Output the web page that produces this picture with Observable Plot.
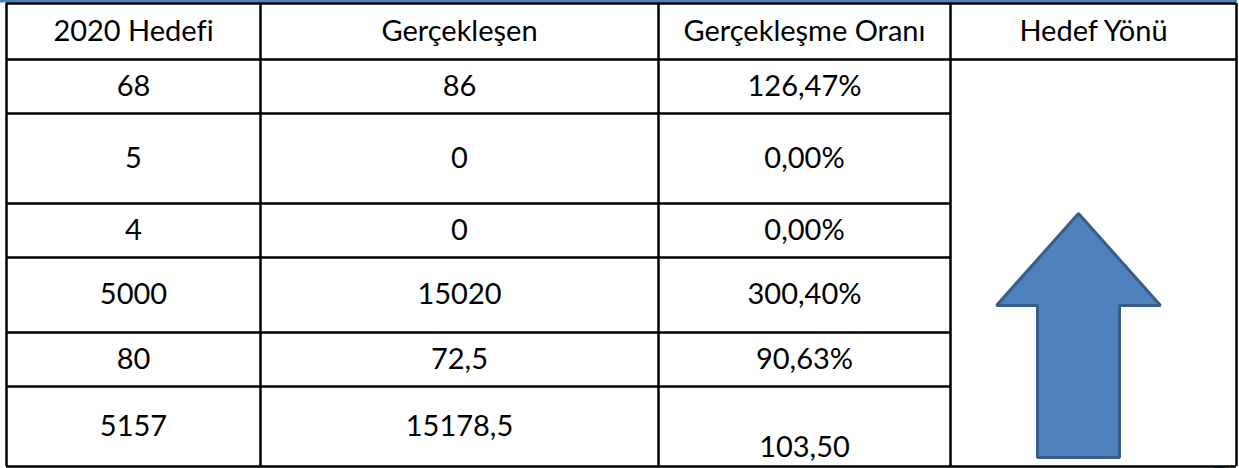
<!DOCTYPE html>
<html><head><meta charset="utf-8">
<script src="https://cdn.jsdelivr.net/npm/d3@7"></script>
<script src="https://cdn.jsdelivr.net/npm/@observablehq/plot@0.6"></script>
<style>body{margin:0;background:#fff} #chart svg{display:block} #chart svg text{font-variant-ligatures:none;font-feature-settings:"liga" 0}</style>
</head><body><div id="chart"></div>
<script>
// ---- data ----
const headers = ["2020 Hedefi", "Gerçekleşen", "Gerçekleşme Oranı", "Hedef Yönü"];
const hedef = ["68", "5", "4", "5000", "80", "5157"];
const gerceklesen = ["86", "0", "0", "15020", "72,5", "15178,5"];
const oran = ["126,47%", "0,00%", "0,00%", "300,40%", "90,63%", "103,50"];
const hedefYonu = ["up"];

// ---- layout (positions only) ----
const W = 1239, H = 468;
const colEdges = [6, 260, 658, 950, 1236];
const rowEdges = [3, 59, 113, 203, 257, 332, 386, 466];
const fontSize = 29;

const cells = [];
headers.forEach((t, c) => cells.push({t, x: (colEdges[c] + colEdges[c+1]) / 2, y: (rowEdges[0] + rowEdges[1]) / 2}));
[hedef, gerceklesen, oran].forEach((col, c) => col.forEach((t, r) => {
  const y0 = rowEdges[r+1], y1 = rowEdges[r+2];
  const last = r === col.length - 1 && c === 2;
  cells.push({t, x: (colEdges[c] + colEdges[c+1]) / 2, y: last ? y1 - 19 : (y0 + y1) / 2});
}));

// grid lines
const vLines = colEdges.map(x => ({x, y1: rowEdges[0], y2: rowEdges[rowEdges.length-1]}));
const hLines = rowEdges.map((y, i) => ({
  y,
  x1: colEdges[0],
  x2: (i === 0 || i === 1 || i === rowEdges.length - 1) ? colEdges[4] : colEdges[3]
}));

// up-arrow shape in the Hedef Yönü cell
const ax = (colEdges[3] + colEdges[4]) / 2 - 15;
const arrowTop = 213, headBase = 305, arrowBottom = 457, headHalf = 82, shaftHalf = 41;
const arrow = hedefYonu[0] === "up" ? [
  [ax, arrowTop], [ax + headHalf, headBase], [ax + shaftHalf, headBase], [ax + shaftHalf, arrowBottom],
  [ax - shaftHalf, arrowBottom], [ax - shaftHalf, headBase], [ax - headHalf, headBase]
] : [];

const plot = Plot.plot({
  width: W, height: H,
  margin: 0,
  x: {type: "linear", domain: [0, W], range: [0, W], axis: null},
  y: {type: "linear", domain: [0, H], range: [0, H], axis: null},
  style: {fontFamily: "Lato, 'Open Sans', sans-serif", background: "#fff"},
  marks: [
    Plot.rect([{x1: 0, x2: 1237, y1: 0, y2: 2.5}], {x1: "x1", x2: "x2", y1: "y1", y2: "y2", fill: "#4f81bd"}),
    Plot.line(arrow, {x: d => d[0], y: d => d[1], curve: "linear-closed", fill: "#4f81bd", stroke: "#385d8a", strokeWidth: 3, strokeLinejoin: "miter"}),
    Plot.dot([{x: 1219, y: 474}], {x: "x", y: "y", r: 8, fill: "#4f81bd", stroke: "#385d8a", strokeWidth: 2}),
    Plot.ruleX(vLines, {x: "x", y1: "y1", y2: "y2", stroke: "#000", strokeWidth: 2.5}),
    Plot.ruleY(hLines, {y: "y", x1: "x1", x2: "x2", stroke: "#000", strokeWidth: 2.5}),
    Plot.text(cells, {x: "x", y: "y", text: "t", fontSize, fill: "#000", textAnchor: "middle", lineAnchor: "middle"})
  ]
});
document.getElementById("chart").appendChild(plot);
</script>
</body></html>
